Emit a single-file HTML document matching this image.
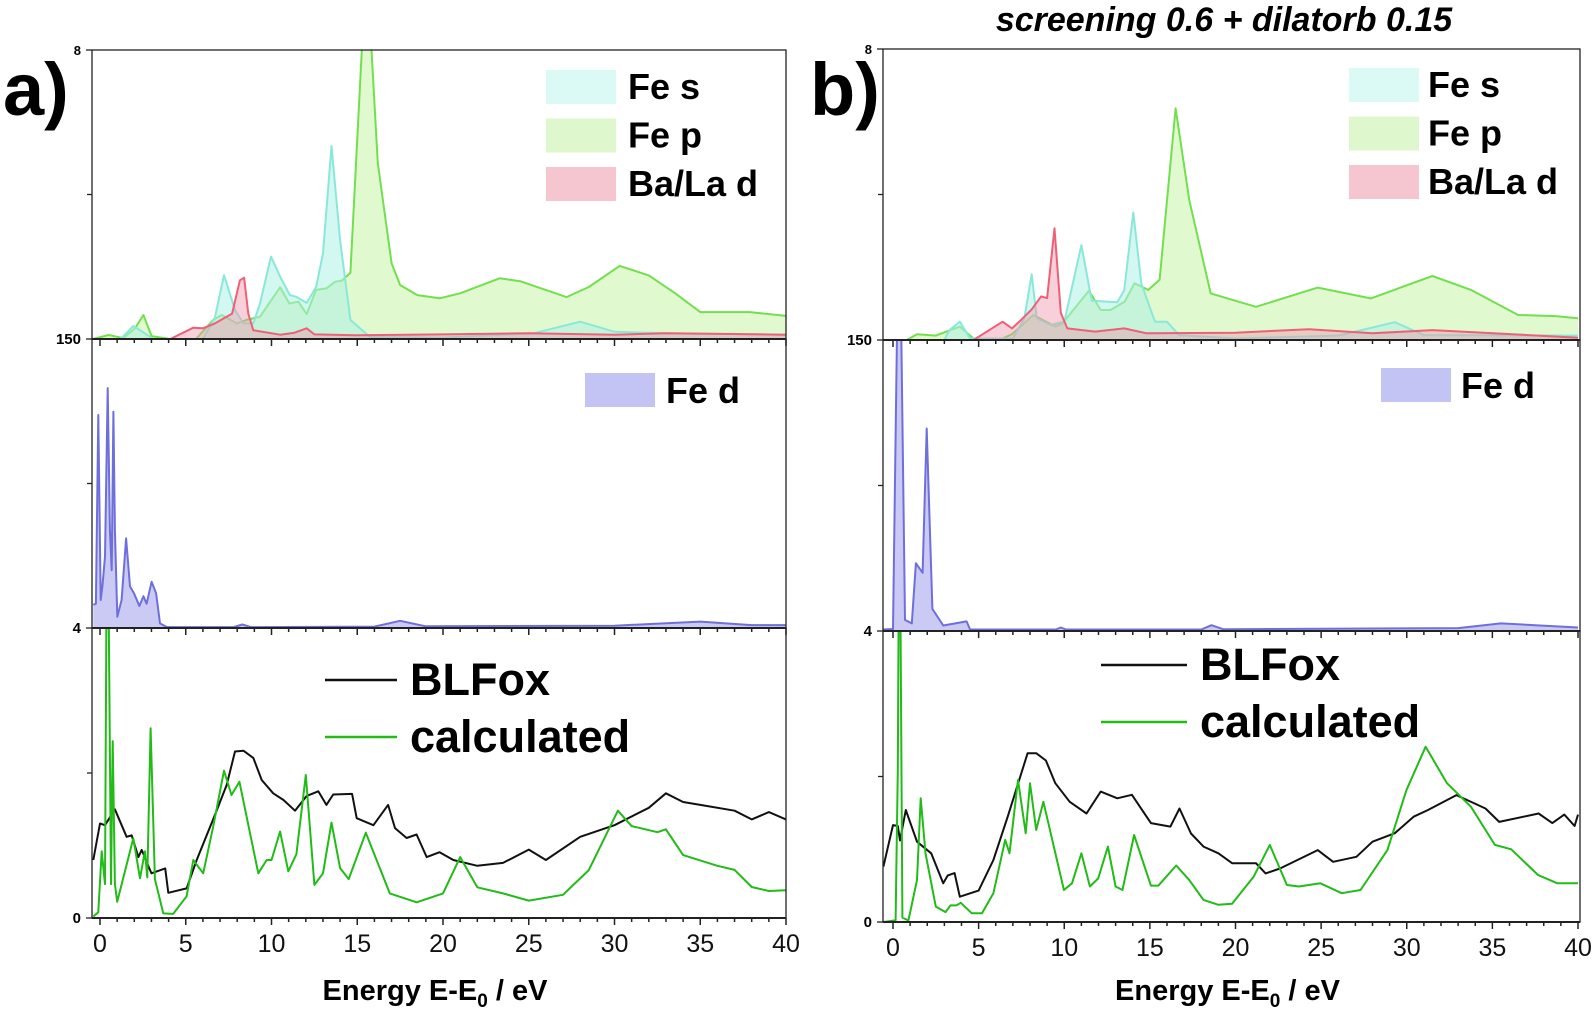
<!DOCTYPE html>
<html><head><meta charset="utf-8"><style>
html,body{margin:0;padding:0;background:#fff;}
svg{display:block;font-family:"Liberation Sans",Arial,sans-serif;}
</style></head><body>
<svg id="chart" width="1595" height="1018" viewBox="0 0 1595 1018" xmlns="http://www.w3.org/2000/svg">
<text x="3" y="115" font-size="74" font-weight="bold">a)</text>
<text x="810" y="115" font-size="74" font-weight="bold">b)</text>
<text x="1224" y="31" font-size="34" font-weight="bold" font-style="italic" text-anchor="middle">screening 0.6 + dilatorb 0.15</text>
<g id="plots"></g>
</svg>
<script>
// ---------- data (energy eV, intensity % of subplot height) ----------
const aFeS = [[-0.4,0],[1.2,0],[1.94,4.5],[2.53,2.3],[3.1,0],[6.0,0],[6.7,7.4],[7.23,22.1],[7.87,10],[8.36,5.4],[8.94,5.4],[9.33,12.3],[9.97,28.5],[10.5,21.6],[11.07,15.2],[11.45,14.6],[12.05,12.5],[12.6,18],[13.0,29.6],[13.5,66.8],[14.0,34.2],[14.6,6.6],[15.74,0.7],[20,0.5],[25.3,2],[28,6],[30,2.5],[33,2],[40,1.5]];
const aFeP = [[-0.4,0],[0.5,1.4],[1.36,0.3],[2.04,3.7],[2.53,8.3],[3.01,1],[4.08,0],[5.6,0],[6.6,6.6],[7.1,8.3],[7.97,5.4],[8.55,6.6],[9.33,7.7],[10.5,17.9],[11.04,12.3],[11.56,12.9],[12.05,8.6],[12.6,17],[13.2,17.5],[13.7,19.8],[14.1,20.2],[14.6,22.9],[15.35,110],[15.74,110],[16.2,60.8],[17.0,26.2],[17.5,18.7],[18.5,15.2],[19.8,14.1],[21.0,15.8],[23.3,21],[24.5,20],[27.2,14.5],[28.5,18],[30.3,25.3],[32,22],[33.5,16],[35,9.3],[37.9,9.3],[40,8]];
const aBaLa = [[-0.4,0],[4.1,0],[5.44,3.9],[6.0,3.7],[6.7,5.4],[7.7,8.8],[8.16,20.3],[8.4,21.2],[8.65,8.8],[8.94,3],[10.5,1.5],[11.3,2.1],[12.05,3.7],[12.5,1.6],[14.9,1.3],[20,1.6],[25,2],[30,1.5],[33,2],[40,1.5]];
const aFeD = [[-0.39,8],[-0.24,8.4],[-0.1,73.7],[0.04,9.7],[0.14,14.4],[0.29,24.7],[0.45,83],[0.58,34],[0.68,20],[0.78,74.8],[0.87,34],[1.01,3.9],[1.26,9.7],[1.52,31],[1.75,14.4],[1.98,12],[2.3,7.6],[2.53,11],[2.72,8.4],[3.01,16],[3.27,12],[3.5,1.6],[3.9,0.3],[7.8,0.3],[8.3,1.2],[8.8,0.3],[16,0.5],[17.5,2.5],[19,0.6],[30,0.8],[35,2.2],[38,1],[40,1]];
const aExp = [[-0.39,20],[0,32.6],[0.29,32],[0.87,37.5],[1.55,28],[1.85,28.5],[2.24,21],[2.43,23.5],[3.0,15.4],[3.8,17.1],[3.98,8.7],[5.05,10.2],[5.64,20],[6.8,37],[7.39,45.9],[7.87,57.4],[8.36,57.7],[8.94,55.2],[9.43,47.6],[10.1,43],[10.7,40.7],[11.37,37],[12.05,42.1],[12.73,43.7],[13.2,39],[13.6,42.6],[14.7,42.8],[14.97,34.4],[15.94,32],[16.8,39],[17.2,31],[17.88,27.6],[18.46,28.8],[19.05,21],[19.8,22.7],[20.6,20],[22,18],[23.5,19],[25,23.6],[26,20],[28,28],[30,32],[32,38],[33,43],[34,40],[35,39],[37,37],[38,34],[39,36.5],[40,34]];
const aCalc = [[-0.39,0.5],[-0.1,2],[0.1,23],[0.29,11.7],[0.38,110],[0.5,110],[0.64,11.7],[0.74,61],[0.87,11.7],[1.0,5.6],[1.94,27.5],[2.33,13.7],[2.62,23],[2.76,14],[2.95,65.4],[3.2,13.4],[3.69,1.6],[4.27,1.4],[5.05,7.5],[5.44,20],[6.02,15.4],[6.6,31.5],[7.23,50.8],[7.67,42.4],[8.13,47],[9.23,15.4],[9.72,20],[10.0,20],[10.5,29.8],[10.98,16.1],[11.45,22],[12.0,49.3],[12.5,11.4],[13.0,15.4],[13.5,32.9],[14.0,17.2],[14.5,13.4],[15.5,29.4],[16.9,8.5],[18.46,5.4],[20.0,8.5],[21.0,21],[22,10.6],[23.5,8.5],[25,6],[27,8],[28.5,16.5],[30.2,37],[31,31.7],[32.5,29.6],[33,30.6],[34,21.7],[36,18],[37,16.6],[38,10.7],[39,9.3],[40,9.6]];

const bFeS = [[-0.6,0],[3.0,0],[3.3,3.4],[3.9,6.3],[4.5,0.5],[7.0,0.5],[7.67,7.5],[8.1,22.6],[8.4,7.5],[9.2,5.2],[10.0,6.3],[11.0,32.6],[11.6,13.5],[13.1,13],[13.5,17.1],[14.03,43.8],[14.5,19.4],[15.3,6.3],[16.0,6.3],[16.7,1.7],[20,0.5],[26,1.5],[29.3,6.1],[31,1.7],[40,1.5]];
const bFeP = [[-0.6,0],[0.8,0],[1.4,2],[2.5,1.5],[3.9,4.6],[4.8,0],[6.2,0],[6.95,2],[8.2,8.6],[9.48,4.6],[9.9,5.7],[11.44,16.9],[12.13,10.3],[12.7,10.3],[13.53,13.2],[14.1,19.5],[14.9,17.2],[15.57,20.7],[16.5,79.6],[17.3,48],[18.55,16],[21.2,11.4],[24.8,18],[27.9,14.3],[31.5,22],[33.75,17.2],[36.5,8.6],[38.7,8.2],[40,7.5]];
const bBaLa = [[-0.6,0],[4.7,0],[6.4,6.3],[6.95,4],[7.5,7],[8.1,10.5],[8.65,15],[9.0,14.4],[9.43,38.4],[9.8,9.3],[10.18,4],[11.8,2.9],[13.5,4],[14.8,2.3],[20,2.5],[24.3,3.7],[28,2.3],[31.5,3.4],[40,0.8]];
const bFeD = [[-0.57,0.5],[0,0.7],[0.25,110],[0.47,110],[0.7,3.8],[1.1,2.6],[1.34,23.3],[1.73,20],[1.97,69.6],[2.3,7.6],[2.94,1.9],[4.3,3.3],[4.5,0.5],[9.5,0.5],[9.8,1.2],[10.1,0.5],[18,0.5],[18.6,2],[19.3,0.6],[33,1],[35.5,2.6],[37.5,2],[40,1.2]];
const bExp = [[-0.56,19],[0,33.3],[0.28,33],[0.41,28],[0.75,38.5],[1.4,27.6],[2.23,23.6],[2.93,13.3],[3.2,16],[3.6,16.8],[3.9,8.7],[5.0,10.8],[5.86,21.3],[6.7,36.2],[7.86,58],[8.36,58],[8.93,55.5],[9.48,47.7],[10.32,41.3],[11.3,37.3],[12.13,44.8],[13.1,42.5],[13.95,43.7],[15.06,34],[16.2,32.8],[16.73,39],[17.4,30.4],[18.13,25.9],[19.0,23.6],[19.8,20.2],[21.2,20.2],[21.76,16.7],[22.6,18.4],[24.8,24.7],[25.7,20.7],[27.06,22.4],[28.0,27.6],[29.3,30.5],[30.4,36.2],[31.24,38.5],[32.9,43.6],[34.6,39],[35.4,34.4],[37.7,37.3],[38.5,34],[39.2,36.9],[39.8,33],[40,36.9]];
const bCalc = [[-0.56,0],[0.15,0.6],[0.28,52],[0.33,110],[0.43,110],[0.55,1.5],[0.9,0.5],[1.4,14.4],[1.62,42.5],[1.9,23.6],[2.5,5.3],[3.07,3.4],[3.35,5.7],[3.7,5.7],[3.96,6.6],[4.6,3],[5.2,3],[5.86,9.9],[6.55,28.2],[6.8,23.6],[7.3,48.8],[7.75,30.5],[8.0,47.7],[8.36,31.6],[8.78,41.3],[9.98,11],[10.45,13.3],[11.0,23.6],[11.5,12.2],[11.98,15],[12.55,25.9],[13.0,12.2],[13.4,11],[14.08,29.9],[15.06,12.5],[15.5,12.5],[16.54,19.4],[17.3,14.4],[18.13,7.6],[19.0,5.9],[19.8,6.3],[21.06,15.6],[22.0,26.5],[23.0,12.7],[23.7,12.2],[24.96,13.3],[26.2,9.9],[27.3,11],[28.87,24.7],[29.98,45.3],[31.1,60.2],[32.35,47.7],[33.75,39.6],[35.15,26.5],[36.1,25],[37.66,16.2],[38.8,13.3],[40,13.3]];

const xTickLabels = ["0","5","10","15","20","25","30","35","40"];
const yTickLabels = ["8","150","4","0"];

// ---------- drawing ----------
const NS = "http://www.w3.org/2000/svg";
const root = document.getElementById("plots");
function mk(tag, attrs, parent){ const e=document.createElementNS(NS,tag); for(const k in attrs) e.setAttribute(k,attrs[k]); (parent||root).appendChild(e); return e; }

const panels = [
  {id:"a", axL:92, axR:786, x0:100, x1:786, tops:[50,339,628], bots:[339,628,918],
   top:{s:aFeS,p:aFeP,ba:aBaLa}, fed:aFeD, exp:aExp, calc:aCalc,
   leg1:{bx:546,tx:628,y0:70}, legD:{bx:585,tx:666,y0:373}, leg3:{lx0:325,lx1:397,tx:410,y0:680}},
  {id:"b", axL:883, axR:1580, x0:893, x1:1578, tops:[49,340,631], bots:[340,631,922],
   top:{s:bFeS,p:bFeP,ba:bBaLa}, fed:bFeD, exp:bExp, calc:bCalc,
   leg1:{bx:1349,tx:1428,y0:68}, legD:{bx:1381,tx:1461,y0:368}, leg3:{lx0:1101,lx1:1187,tx:1200,y0:665}}
];

panels.forEach(P=>{
  const g = mk("g",{});
  
  
  const xs = v => P.x0 + (v/40)*(P.x1-P.x0);
  const defs = mk("defs",{},g);
  for(let i=0;i<3;i++){
    const cp = mk("clipPath",{id:"clip"+P.id+i},defs);
    mk("rect",{x:P.axL,y:P.tops[i],width:P.axR-P.axL,height:P.bots[i]-P.tops[i]},cp);
  }
  const ys = (i,v) => P.bots[i] - v/100*(P.bots[i]-P.tops[i]);
  function pathOf(arr,i){ return arr.map((d,k)=>(k?"L":"M")+xs(d[0]).toFixed(1)+","+ys(i,d[1]).toFixed(1)).join(""); }
  function area(arr,i,fill,stroke,name){
    const sg = mk("g",{"clip-path":"url(#clip"+P.id+i+")"},g);
    
    
    const d = pathOf(arr,i);
    if(fill){
      const f = mk("path",{d:d+"L"+xs(arr[arr.length-1][0]).toFixed(1)+","+P.bots[i]+"L"+xs(arr[0][0]).toFixed(1)+","+P.bots[i]+"Z",fill:fill,stroke:"none"},sg);
      
      
    }
    const l = mk("path",{d:d,fill:"none",stroke:stroke,"stroke-width":2,"stroke-linejoin":"round"},sg);
    
    
  }
  area(P.top.p,0,"rgba(205,245,175,0.6)","#72e04e","fe-p-series");
  area(P.top.s,0,"rgba(175,240,230,0.55)","#8ae8da","fe-s-series");
  area(P.top.ba,0,"rgba(240,150,170,0.45)","#ee6078","ba-la-d-series");
  area(P.fed,1,"rgba(180,180,240,0.7)","#6f6fdc","fe-d-series");
  area(P.exp,2,null,"#111","blfox-series");
  area(P.calc,2,null,"#22bb18","calculated-series");

  for(let i=0;i<3;i++){
    const r = mk("rect",{x:P.axL,y:P.tops[i],width:P.axR-P.axL,height:P.bots[i]-P.tops[i],fill:"none",stroke:"#222","stroke-width":1.3},g);
    
    
    mk("line",{x1:P.axL,x2:P.axR,y1:P.bots[i],y2:P.bots[i],stroke:"#222","stroke-width":2},g);
    for(let e=0;e<=40;e++){
      const major = e%5===0;
      mk("line",{x1:xs(e),x2:xs(e),y1:P.bots[i],y2:P.bots[i]+(major?7:4),stroke:"#222","stroke-width":1.5},g);
    }
    mk("line",{x1:P.axL-5,x2:P.axL,y1:(P.tops[i]+P.bots[i])/2,y2:(P.tops[i]+P.bots[i])/2,stroke:"#222","stroke-width":1.3},g);
  }
  const yPos=[P.tops[0],P.bots[0],P.bots[1],P.bots[2]];
  yTickLabels.forEach((t,k)=>{
    mk("line",{x1:P.axL-6,x2:P.axL,y1:yPos[k],y2:yPos[k],stroke:"#222","stroke-width":1.3},g);
    const tx = mk("text",{x:P.axL-11,y:yPos[k]+5,"font-size":k===0?13:15,"font-weight":"bold","text-anchor":"end"},g);
    tx.textContent=t;
    
    
  });
  xTickLabels.forEach((t,k)=>{
    const tx = mk("text",{x:xs(k*5),y:P.bots[2]+34,"font-size":25,"text-anchor":"middle",fill:"#111"},g);
    tx.textContent=t;
    
    
  });
  const xt = mk("text",{x:(P.axL+P.axR)/2-4,y:1000,"font-size":29,"font-weight":"bold","text-anchor":"middle"},g);
  xt.innerHTML='Energy E-E<tspan font-size="19" dy="7">0</tspan><tspan dy="-7"> / eV</tspan>';
  
  

  const L=P.leg1;
  [["Fe s","#dcfaf5"],["Fe p","#dff7cc"],["Ba/La d","#f6c6d0"]].forEach((e,k)=>{
    const y=L.y0+k*48.5;
    const r=mk("rect",{x:L.bx,y:y,width:70,height:34,fill:e[1]},g);
    
    
    const t=mk("text",{x:L.tx,y:y+29,"font-size":36,"font-weight":"bold"},g);
    t.textContent=e[0];
    
    
  });
  const D=P.legD;
  const rd=mk("rect",{x:D.bx,y:D.y0,width:70,height:34,fill:"#c4c4f4"},g);
  
  
  const td=mk("text",{x:D.tx,y:D.y0+30,"font-size":36,"font-weight":"bold"},g);
  td.textContent="Fe d";
  
  
  const Q=P.leg3;
  [["BLFox","#111"],["calculated","#22bb18"]].forEach((e,k)=>{
    const y=Q.y0+k*57;
    mk("line",{x1:Q.lx0,x2:Q.lx1,y1:y,y2:y,stroke:e[1],"stroke-width":2.5},g);
    const t=mk("text",{x:Q.tx,y:y+15,"font-size":45,"font-weight":"bold"},g);
    t.textContent=e[0];
    
    
  });
});
</script>
</body></html>
